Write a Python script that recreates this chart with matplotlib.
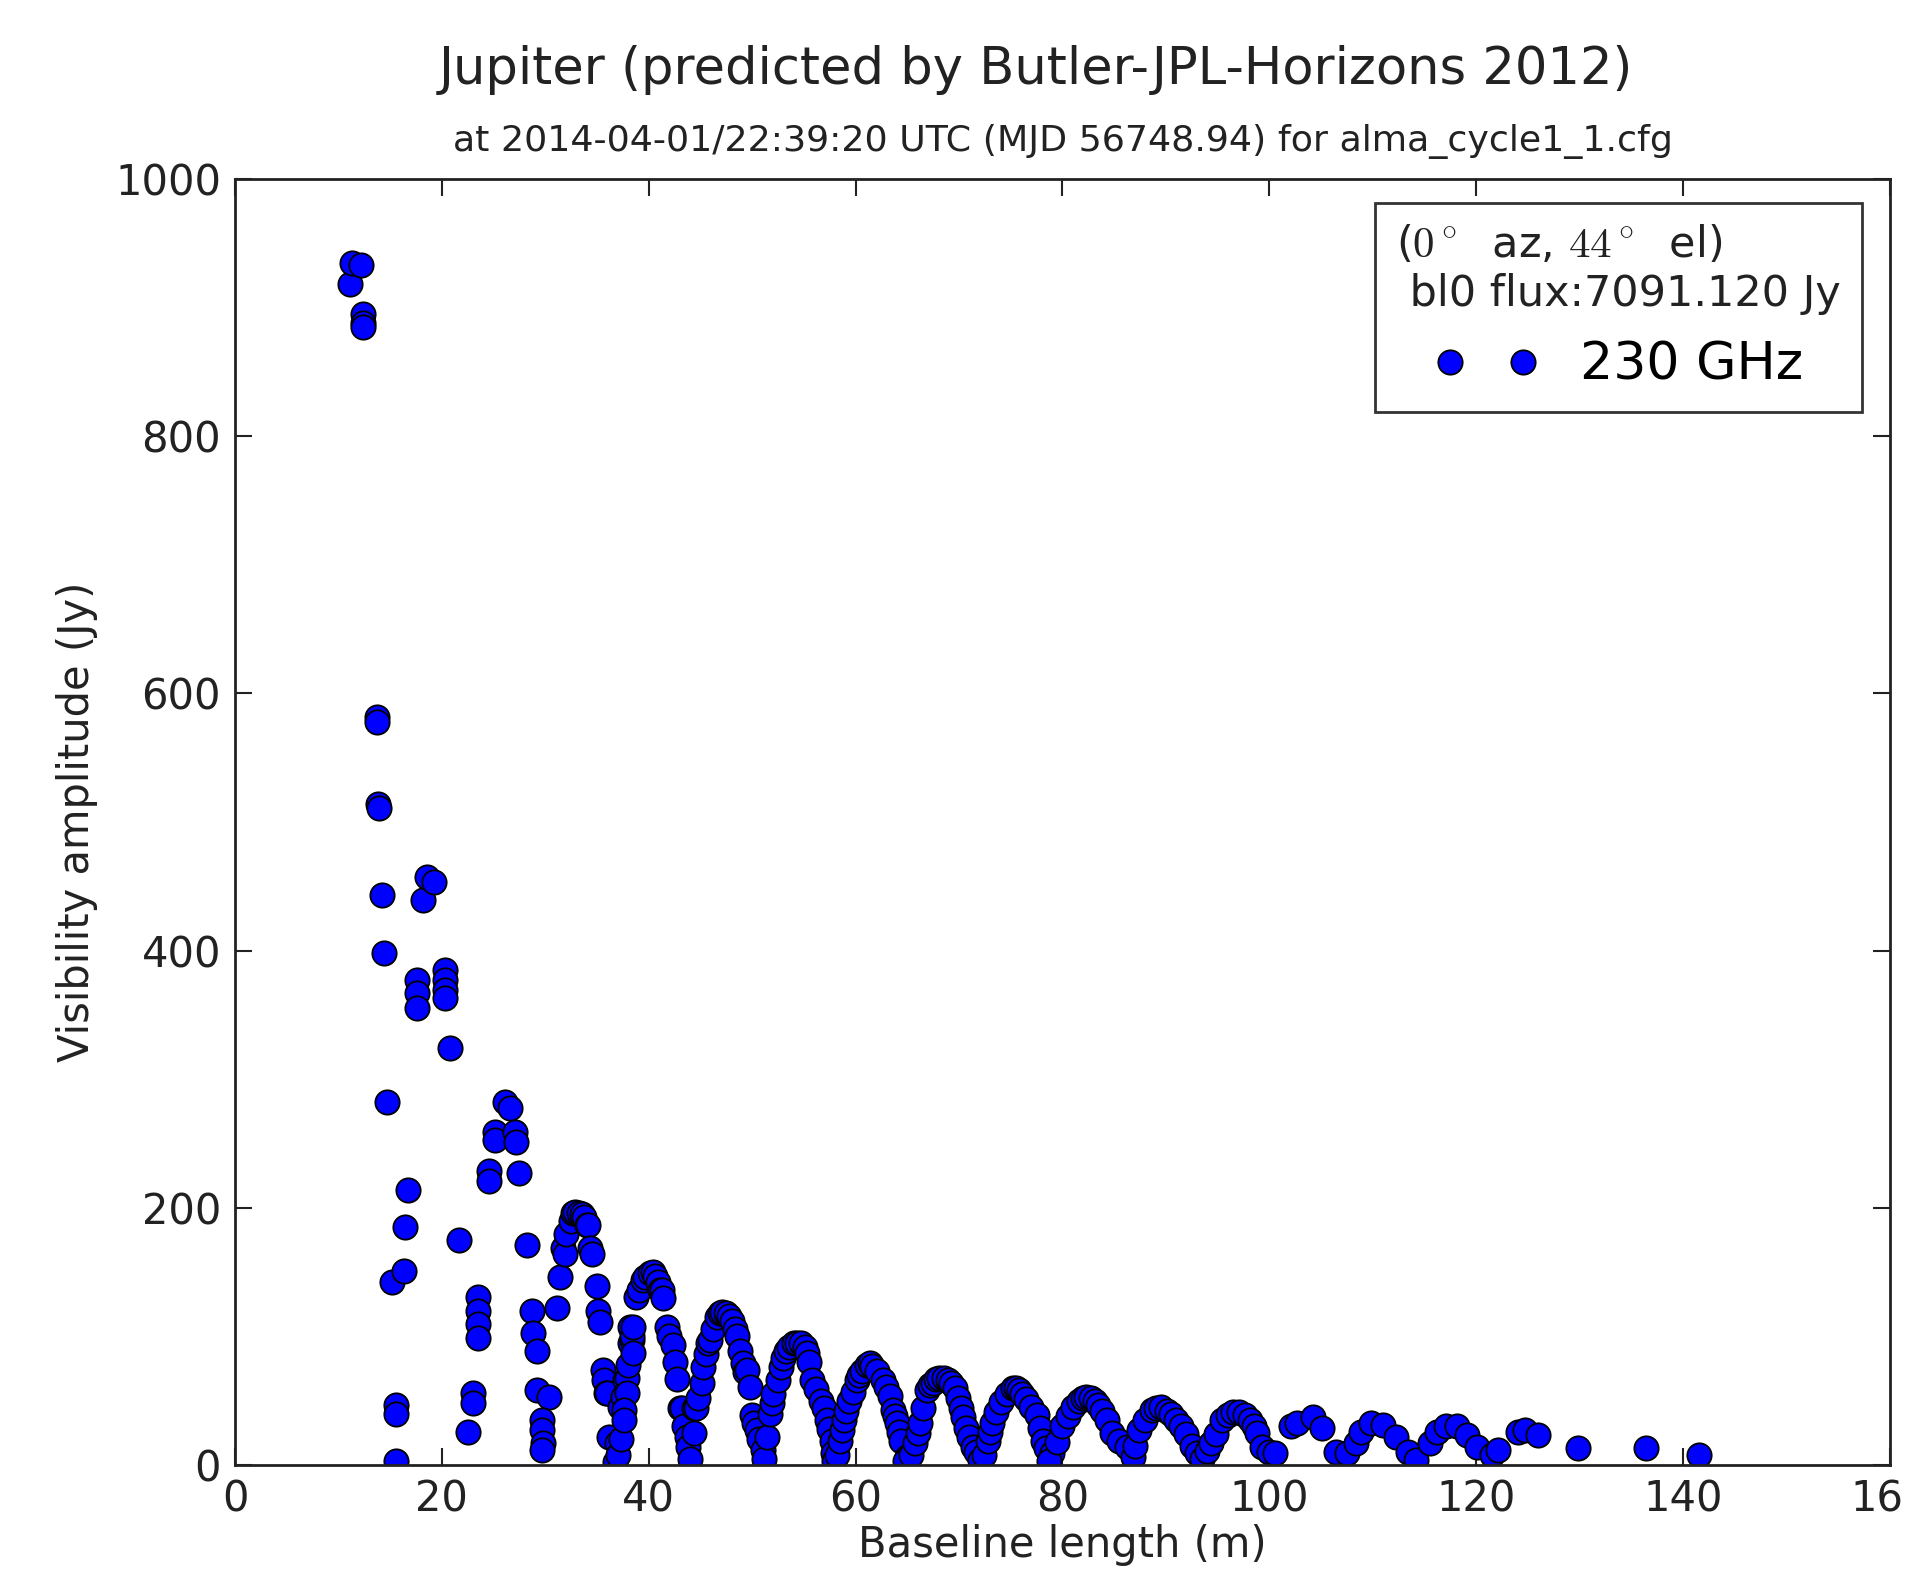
#!/usr/bin/env python3
"""
Visibility amplitude vs baseline length for Jupiter (230 GHz, ALMA cycle 1).
"""

import matplotlib

matplotlib.use("Agg")
import matplotlib.pyplot as plt  # noqa: E402

# Values (baseline in m, amplitude in Jy)
baseline_m = [
    11.1, 11.3, 12.2, 12.4, 12.4, 12.4, 13.7, 13.7, 13.8, 13.9, 14.2, 14.4,
    14.7, 15.2, 15.6, 15.6, 15.6,
    16.3, 16.4, 16.7, 17.6, 17.6, 17.6, 18.2, 18.6, 19.2, 20.3, 20.3, 20.3,
    20.3, 20.8, 21.7, 22.5,
    23.0, 23.0, 23.5, 23.5, 23.5, 23.5, 24.6, 24.6, 25.1, 25.1, 26.1, 26.6,
    27.1, 27.2, 27.5, 28.2, 28.7, 28.8, 29.2, 29.2, 30.4, 29.7, 29.7, 29.8,
    29.7,
    31.1, 31.4, 31.7, 31.9, 32.0, 32.5, 32.7, 32.9, 33.3, 33.5, 33.7, 34.0,
    34.1, 34.3, 34.5, 35.0, 35.1, 35.3, 35.6, 35.7, 35.9, 36.0, 36.2, 36.9,
    36.7,
    37.0, 37.3, 37.2, 37.5, 37.7, 37.9, 37.9, 37.6, 37.6, 38.0, 38.2, 38.2,
    38.4, 38.4, 38.5, 38.5, 38.8, 39.1, 39.4, 39.6, 40.1, 40.4, 40.6, 40.9,
    41.1, 41.3, 41.4, 41.8, 42.0, 42.3, 42.5, 42.7, 43.0, 43.2, 43.4, 43.7,
    43.8, 44.0,
    44.4, 44.4, 44.6, 44.8, 45.1, 45.2, 45.5, 45.7, 45.9, 46.2, 46.6, 46.9,
    47.1, 47.5, 47.8, 48.0, 48.3, 48.5, 48.8, 49.1, 49.3, 49.5, 49.8, 50.0,
    50.2, 50.5, 50.7, 51.0, 51.1,
    51.4, 51.7, 51.9, 52.0, 52.5, 52.8, 53.0, 53.3, 53.6, 54.0, 54.3, 54.7,
    55.1, 55.3, 55.5, 55.8, 56.2, 56.7, 56.9, 57.2, 57.4, 57.7, 57.8, 57.9,
    58.2, 58.5, 58.7, 58.9, 59.1, 59.4, 59.7, 60.1, 60.3, 60.6, 61.1, 61.4,
    61.6, 62.1, 62.6, 62.9, 63.3, 63.6, 63.8, 64.0, 64.2, 64.4, 65.0, 64.8,
    65.4, 65.7, 66.0, 66.2, 66.5, 66.9, 67.2, 67.5, 67.8, 68.1, 68.5, 68.9,
    69.2, 69.6, 69.9, 70.2, 70.4, 70.7, 71.0, 71.3, 71.6, 72.0,
    72.4, 72.8, 73.0, 73.2, 73.6, 74.1, 74.6, 75.2, 75.5, 75.8, 76.1, 76.5,
    77.0, 77.5, 77.8, 78.1, 78.4, 79.0, 78.7,
    79.5, 80.0, 80.5, 81.0, 81.6, 82.0, 82.3, 82.8, 83.1, 83.4, 83.8, 84.3,
    84.8, 85.5, 86.2, 86.8,
    87.0, 87.4, 88.0, 88.7, 89.0, 89.5, 90.1, 90.5, 91.0, 91.5, 91.9, 92.5,
    93.0,
    93.5, 94.0, 94.4, 94.8, 95.4, 96.0, 96.5, 97.1, 97.6, 98.1, 98.5, 98.8,
    99.3, 100.0, 100.5,
    102.1, 102.7, 104.2, 105.1, 106.4, 107.5,
    108.4, 108.9, 109.8, 111.0, 112.2, 113.4, 114.2,
    115.5, 116.2, 117.1, 118.1, 119.1, 120.1, 121.5, 122.1,
    124.0, 124.7, 126.0, 129.8, 136.4, 141.5,
]
amplitude_jy = [
    918, 935, 933, 895, 888, 885, 582, 578, 514, 511, 443, 398,
    282, 142, 47, 40, 3,
    151, 185, 214, 377, 367, 355, 439, 457, 453, 385, 377, 369,
    363, 324, 175, 26,
    56, 48, 131, 120, 110, 99, 229, 221, 259, 253, 282, 278,
    259, 251, 227, 171, 120, 103, 89, 58, 53, 35, 27, 17,
    12,
    122, 146, 169, 164, 180, 190, 196, 197, 196, 195, 193, 187,
    187, 169, 164, 139, 120, 111, 74, 66, 56, 56, 22, 17,
    2,
    8, 20, 45, 53, 66, 68, 56, 43, 35, 78, 107, 95,
    97, 100, 87, 107, 131, 136, 144, 146, 149, 150, 147, 142,
    136, 136, 130, 107, 100, 93, 80, 67, 44, 44, 30, 22,
    14, 5,
    25, 44, 44, 52, 64, 76, 86, 95, 97, 106, 115, 118,
    119, 118, 116, 112, 106, 100, 89, 79, 72, 74, 61, 39,
    33, 27, 20, 12, 5,
    22, 40, 48, 55, 66, 76, 83, 89, 92, 95, 95, 95,
    92, 87, 80, 66, 59, 50, 44, 35, 28, 19, 9, 3,
    8, 19, 27, 35, 42, 50, 57, 66, 70, 73, 78, 79,
    77, 73, 66, 61, 54, 43, 38, 33, 26, 19, 6, 3,
    8, 17, 25, 33, 44, 58, 62, 64, 67, 68, 68, 66,
    64, 60, 52, 44, 37, 29, 22, 14, 10, 4,
    8, 19, 26, 33, 41, 49, 55, 60, 60, 58, 55, 51,
    45, 39, 29, 19, 13, 9, 3,
    18, 30, 38, 45, 50, 52, 53, 52, 50, 47, 42, 35,
    25, 19, 14, 6,
    15, 27, 35, 43, 44, 45, 42, 40, 35, 30, 24, 15,
    9,
    5, 11, 17, 24, 35, 39, 41, 41, 39, 35, 30, 25,
    14, 10, 9,
    30, 33, 37, 29, 10, 9,
    17, 26, 33, 31, 22, 10, 4,
    17, 26, 30, 30, 23, 14, 8, 12,
    26, 27, 23, 13, 13, 8,
]

x_ticks = [0, 20, 40, 60, 80, 100, 120, 140, 160]
y_ticks = [0, 200, 400, 600, 800, 1000]

TITLE = "Jupiter (predicted by Butler-JPL-Horizons 2012)"
SUBTITLE = "at 2014-04-01/22:39:20 UTC (MJD 56748.94) for alma_cycle1_1.cfg"
LEGEND_TITLE = "($0^\\circ$  az, $44^\\circ$  el)\n bl0 flux:7091.120 Jy"
SERIES_LABEL = "230 GHz"


def main():
    plt.rcParams["mathtext.fontset"] = "cm"
    plt.rcParams["font.family"] = "DejaVu Sans"

    fig = plt.figure(figsize=(19.06, 15.77), dpi=100)
    ax = fig.add_axes([0.1233, 0.0710, 0.8683, 0.8155])

    ax.plot(baseline_m, amplitude_jy, linestyle="none", marker="o",
            markersize=17.5, markerfacecolor="#0000ff",
            markeredgecolor="black", markeredgewidth=1.3,
            label=SERIES_LABEL)

    ax.set_xlim(0, 160)
    ax.set_ylim(0, 1000)
    ax.set_xticks(x_ticks)
    ax.set_yticks(y_ticks)
    ax.tick_params(direction="in", top=True, right=True, length=12,
                   width=1.5, labelsize=30, pad=10, colors="#222222")
    for spine in ax.spines.values():
        spine.set_linewidth(2)
        spine.set_color("#222222")

    ax.set_xlabel("Baseline length (m)", fontsize=30, color="#222222")
    ax.set_ylabel("Visibility amplitude (Jy)", fontsize=30, color="#222222")
    ax.xaxis.set_label_coords(0.5, -0.046)
    ax.yaxis.set_label_coords(-0.083, 0.5)

    ax.set_title(SUBTITLE, fontsize=26.2, pad=20, color="#222222")
    fig.text(0.5435, 0.9556, TITLE, fontsize=36.8, ha="center",
             va="center", color="#222222")

    leg = ax.legend(loc="upper right", bbox_to_anchor=(0.983, 0.981),
                    borderaxespad=0, numpoints=2, fontsize=37.5,
                    title=LEGEND_TITLE, title_fontsize=31, fancybox=False)
    leg.get_frame().set_edgecolor("black")
    leg.get_frame().set_linewidth(2)
    leg.get_title().set_color("#222222")
    leg.get_title().set_multialignment("left")

    fig.savefig("out.png", dpi=100)
    plt.close(fig)


if __name__ == "__main__":
    main()
